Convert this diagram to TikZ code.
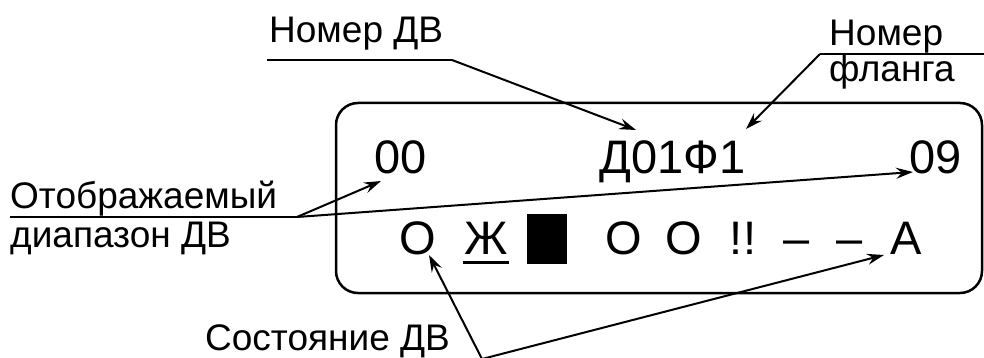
\documentclass[tikz,border=0pt]{standalone}
\usepackage{fontspec}
\setmainfont{Liberation Sans}
\usetikzlibrary{arrows.meta}
\begin{document}
\begin{tikzpicture}[x=1pt,y=-1pt,
  lbl/.style={font=\fontsize{37}{40}\selectfont, inner sep=0pt, anchor=base west},
  big/.style={font=\fontsize{47}{50}\selectfont, inner sep=0pt, anchor=base west},
  sym/.style={font=\fontsize{47}{50}\selectfont, inner sep=0pt, anchor=base},
  lead/.style={line width=2pt},
  arr/.style={line width=2pt, -{Stealth[length=17pt,width=11pt,inset=6pt]}}]
\useasboundingbox (0,0) rectangle (984,358);
% display frame
\draw[line width=2.5pt, rounded corners=22pt] (336,103) rectangle (982,293);
% top row
\node[big] (n00) at (374,174) {00};
\node[big] (nd01) at (599,174) {Д01Ф1};
\node[big] (n09) at (909,174) {09};
% status row
\node[sym] (s1) at (418,254) {О};
\node[sym] (s2) at (486,254) {Ж};
\node[fill=black, inner sep=0pt, minimum width=40pt, minimum height=50pt, anchor=north west] (s3) at (527,214) {};
\node[sym] (s4) at (624,254) {О};
\node[sym] (s5) at (684,254) {О};
\node[sym] (s6) at (743,254) {!!};
\node[sym] (s7) at (797,254) {–};
\node[sym] (s8) at (850,254) {–};
\node[sym] (s9) at (906,254) {А};
\draw[line width=3pt] (463,262) -- (509,262);
% labels
\node[lbl] (lnd) at (269,43) {Номер ДВ};
\node[lbl] (lnf1) at (829,46) {Номер};
\node[lbl] (lnf2) at (829,82) {фланга};
\node[lbl] (lot1) at (10,208) {Отображаемый};
\node[lbl] (lot2) at (10,247) {диапазон ДВ};
\node[lbl] (lst) at (205,350) {Состояние ДВ};
% leader points and tips
\coordinate (a1) at (267,60);
\coordinate (a2) at (452,60);
\coordinate (t1) at (636,130);
\coordinate (b1) at (984,54);
\coordinate (b2) at (820,54);
\coordinate (t2) at (746,129);
\coordinate (c1) at (10,217);
\coordinate (c2) at (297,217);
\coordinate (t3) at (381,181);
\coordinate (t4) at (913,172);
\coordinate (d0) at (482,359);
\coordinate (t5) at (429,255);
\coordinate (t6) at (884,255);
\draw[lead] (a1) -- (a2);
\draw[arr] (a2) -- (t1);
\draw[lead] (b1) -- (b2);
\draw[arr] (b2) -- (t2);
\draw[lead] (c1) -- (c2);
\draw[arr] (c2) -- (t3);
\draw[arr] (c2) -- (t4);
\draw[arr] (d0) -- (t5);
\draw[arr] (d0) -- (t6);
\end{tikzpicture}
\end{document}
